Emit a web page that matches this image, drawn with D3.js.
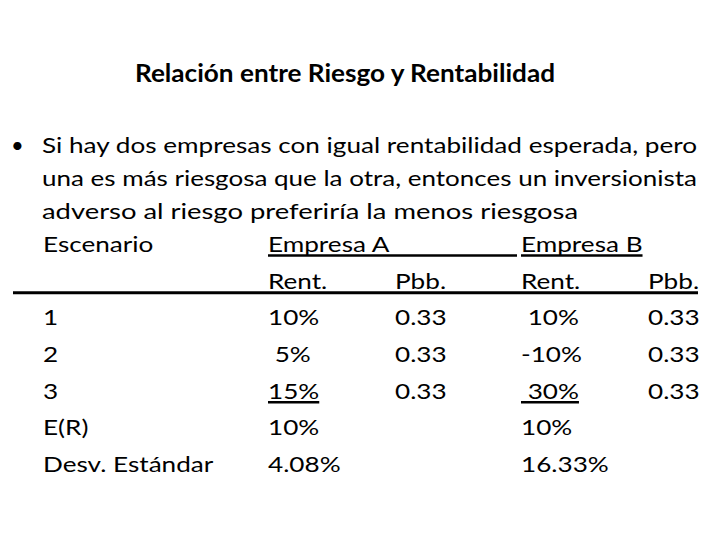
<!DOCTYPE html>
<html>
<head>
<meta charset="utf-8">
<script src="https://cdn.jsdelivr.net/npm/d3@7"></script>
<style>
  body { margin: 0; background: #fff; }
  text { font-family: Lato, "Open Sans", sans-serif; fill: #000; white-space: pre; }
</style>
</head>
<body>
<script>
// Slide text
const title = "Relación entre Riesgo y Rentabilidad";
const bulletLines = [
	"Si hay dos empresas con igual rentabilidad esperada, pero",
	"una es más riesgosa que la otra, entonces un inversionista",
	"adverso al riesgo preferiría la menos riesgosa"
];

// Table
const headers = ["Escenario", "Empresa A", "Empresa B"];
const subHeaders = ["", "Rent.", "Pbb.", "Rent.", "Pbb."];
const scenarios = ["1", "2", "3", "E(R)", "Desv. Estándar"];
const rentA = ["10%", " 5%", "15%", "10%", "4.08%"];
const pbbA = ["0.33", "0.33", "0.33", "", ""];
const rentB = [" 10%", "-10%", " 30%", "10%", "16.33%"];
const pbbB = ["0.33", "0.33", "0.33", "", ""];
const underlinedRow = 2;

const width = 720, height = 540;

let svg = d3.select("body")
	.append("svg")
	.attr("width", width)
	.attr("height", height);

svg.append("rect").attr("width", width).attr("height", height).attr("fill", "#fff");

// Scales
let lineY = d3.scaleLinear().domain([0, 3]).range([153, 252]);
let rowY = d3.scaleLinear().domain([0, 6]).range([252, 472]);
let colX = d3.scaleOrdinal()
	.domain(["scen", "rentA", "pbbA", "rentB", "pbbB"])
	.range([43, 268, 395, 521, 648]);

// squeeze factor: Lato is wider than the original Calibri
let squeeze = 1;

function fit(sel, target) {
	sel.each(function() {
		let w = this.getComputedTextLength();
		if (w === 0) return;
		let t = target !== undefined ? target : w * squeeze;
		d3.select(this).attr("textLength", t).attr("lengthAdjust", "spacingAndGlyphs");
	});
	return sel;
}

// Title
let t = svg.append("text")
	.attr("x", 135)
	.attr("y", 82)
	.attr("font-size", 24)
	.attr("font-weight", "bold")
	.text(title);
fit(t, 420);

// Bullet
svg.append("text")
	.attr("x", 11)
	.attr("y", lineY(0))
	.attr("font-size", 22)
	.text("•");

let lineWidths = [655, 655, 536];
bulletLines.forEach(function(s, i) {
	let tx = svg.append("text")
		.attr("x", colX("scen") - 1)
		.attr("y", lineY(i))
		.attr("font-size", 22)
		.text(s);
	if (i === 0) squeeze = lineWidths[0] / tx.node().getComputedTextLength();
	fit(tx, lineWidths[i]);
});

// Header row
let hx = [colX("scen"), colX("rentA"), colX("rentB")];
let headerText = [];
headers.forEach(function(h, i) {
	let tx = svg.append("text")
		.attr("x", hx[i])
		.attr("y", rowY(0))
		.attr("font-size", 22)
		.text(h);
	fit(tx);
	headerText.push(tx);
});

// Underlines under Empresa A (runs up to Empresa B) and Empresa B
svg.append("line")
	.attr("x1", colX("rentA")).attr("x2", colX("rentB") - 4)
	.attr("y1", rowY(0) + 3.5).attr("y2", rowY(0) + 3.5)
	.attr("stroke", "#000").attr("stroke-width", 2.5);
svg.append("line")
	.attr("x1", colX("rentB")).attr("x2", colX("rentB") + +headerText[2].attr("textLength"))
	.attr("y1", rowY(0) + 3.5).attr("y2", rowY(0) + 3.5)
	.attr("stroke", "#000").attr("stroke-width", 2.5);

// Sub header row
let cols = ["scen", "rentA", "pbbA", "rentB", "pbbB"];
subHeaders.forEach(function(h, i) {
	if (h === "") return;
	fit(svg.append("text")
		.attr("x", colX(cols[i]))
		.attr("y", rowY(1))
		.attr("font-size", 22)
		.text(h));
});

svg.append("line")
	.attr("x1", 13).attr("x2", 698)
	.attr("y1", rowY(1) + 4).attr("y2", rowY(1) + 4)
	.attr("stroke", "#000").attr("stroke-width", 3);

// Body rows
let columns = [scenarios, rentA, pbbA, rentB, pbbB];
columns.forEach(function(values, c) {
	svg.selectAll(null)
		.data(values)
		.enter()
		.append("text")
		.attr("x", colX(cols[c]))
		.attr("y", function(d, i) { return rowY(i + 2); })
		.attr("font-size", 22)
		.text(function(d) { return d; })
		.call(fit);
});

// underline the third scenario's returns
["rentA", "rentB"].forEach(function(k) {
	let vals = k === "rentA" ? rentA : rentB;
	let probe = svg.append("text")
		.attr("font-size", 22)
		.attr("x", -100).attr("y", -100)
		.text(vals[underlinedRow]);
	let w = probe.node().getComputedTextLength() * squeeze;
	probe.remove();
	svg.append("line")
		.attr("x1", colX(k)).attr("x2", colX(k) + w)
		.attr("y1", rowY(underlinedRow + 2) + 3.5).attr("y2", rowY(underlinedRow + 2) + 3.5)
		.attr("stroke", "#000").attr("stroke-width", 2.5);
});
</script>
</body>
</html>
